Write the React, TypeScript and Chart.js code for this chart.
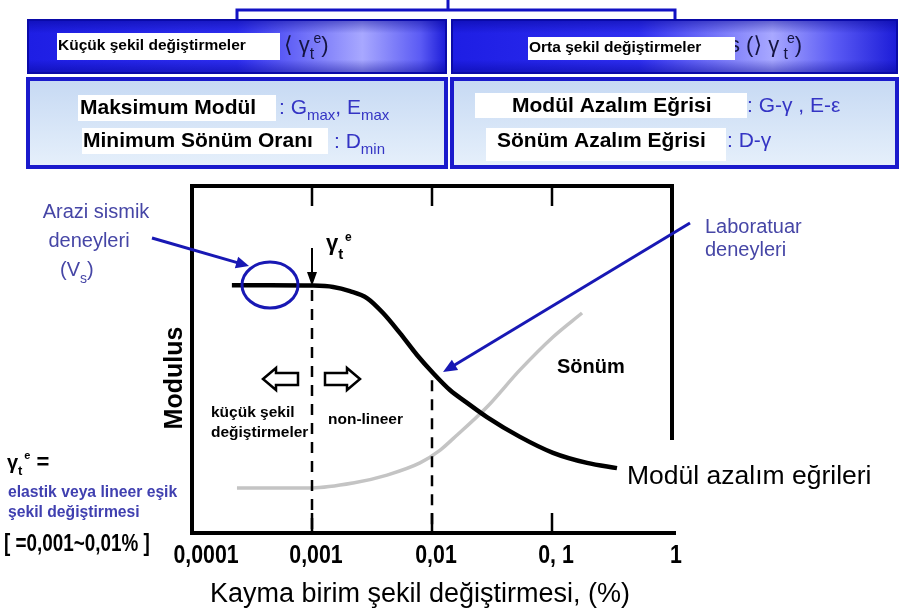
import React, { useEffect, useRef } from "react";
import { Chart, registerables } from "chart.js";

Chart.register(...registerables);

// ---- data ----
const axisTicks = [0.0001, 0.001, 0.01, 0.1, 1];
const axisTickLabels = ["0,0001", "0,001", "0,01", "0, 1", "1"];
const innerTicks = [0.001, 0.01, 0.1];

const modulusStrain = [0.000215, 0.000447, 0.001, 0.0015, 0.00207, 0.00287, 0.00391, 0.00541, 0.0075, 0.0102, 0.0141, 0.0196, 0.0287, 0.0541, 0.102, 0.196, 0.348];
const modulusValue = [0.714, 0.714, 0.713, 0.709, 0.697, 0.677, 0.634, 0.576, 0.513, 0.461, 0.412, 0.375, 0.334, 0.277, 0.231, 0.202, 0.187];

const dampingStrain = [0.000237, 0.001, 0.0022, 0.00422, 0.00794, 0.0117, 0.015, 0.0287, 0.0541, 0.102, 0.178];
const dampingValue = [0.13, 0.13, 0.144, 0.167, 0.202, 0.239, 0.272, 0.363, 0.47, 0.565, 0.634];

const thresholdStrains = [0.001, 0.01];
const thresholdTopValues = [0.7, 0.44];

const SANS = '"Liberation Sans", Arial, "DejaVu Sans", sans-serif';

type Part = { t: string; font: string; dy?: number; color?: string; stay?: boolean };

function seq(ctx: CanvasRenderingContext2D, parts: Part[], x: number, y: number, color: string) {
  let cx = x;
  for (const p of parts) {
    ctx.font = p.font;
    ctx.fillStyle = p.color || color;
    ctx.textAlign = "left";
    ctx.textBaseline = "middle";
    ctx.fillText(p.t, cx, y + (p.dy || 0));
    if (!p.stay) cx += ctx.measureText(p.t).width;
  }
}

function text(ctx: CanvasRenderingContext2D, s: string, x: number, y: number, font: string, color: string, align: CanvasTextAlign = "left") {
  ctx.font = font;
  ctx.fillStyle = color;
  ctx.textAlign = align;
  ctx.textBaseline = "middle";
  ctx.fillText(s, x, y);
}

function narrowText(ctx: CanvasRenderingContext2D, s: string, x: number, y: number, font: string, sx: number, align: CanvasTextAlign) {
  ctx.save();
  ctx.translate(x, y);
  ctx.scale(sx, 1);
  text(ctx, s, 0, 0, font, "#000", align);
  ctx.restore();
}

function arrowLine(ctx: CanvasRenderingContext2D, x1: number, y1: number, x2: number, y2: number, color: string, w: number, hl: number, hw: number) {
  const a = Math.atan2(y2 - y1, x2 - x1);
  ctx.strokeStyle = color;
  ctx.fillStyle = color;
  ctx.lineWidth = w;
  ctx.beginPath();
  ctx.moveTo(x1, y1);
  ctx.lineTo(x2 - Math.cos(a) * hl * 0.8, y2 - Math.sin(a) * hl * 0.8);
  ctx.stroke();
  ctx.beginPath();
  ctx.moveTo(x2, y2);
  ctx.lineTo(x2 - Math.cos(a) * hl - Math.sin(a) * hw, y2 - Math.sin(a) * hl + Math.cos(a) * hw);
  ctx.lineTo(x2 - Math.cos(a) * hl + Math.sin(a) * hw, y2 - Math.sin(a) * hl - Math.cos(a) * hw);
  ctx.closePath();
  ctx.fill();
}

function hollowArrow(ctx: CanvasRenderingContext2D, tip: number, tail: number, cy: number) {
  const dir = tail > tip ? 1 : -1;
  const base = tip + dir * 13;
  ctx.beginPath();
  ctx.moveTo(tip, cy);
  ctx.lineTo(base, cy - 11);
  ctx.lineTo(base, cy - 6);
  ctx.lineTo(tail, cy - 6);
  ctx.lineTo(tail, cy + 6);
  ctx.lineTo(base, cy + 6);
  ctx.lineTo(base, cy + 11);
  ctx.closePath();
  ctx.fillStyle = "#fff";
  ctx.fill();
  ctx.strokeStyle = "#000";
  ctx.lineWidth = 2.5;
  ctx.stroke();
}

function headerBox(ctx: CanvasRenderingContext2D, x: number, y: number, w: number, h: number, light: number) {
  const g = ctx.createLinearGradient(x, 0, x + w, 0);
  g.addColorStop(0, "#1e1ee4");
  g.addColorStop(Math.max(0, light - 0.3), "#2e2ef0");
  g.addColorStop(light, "#a8a8ff");
  g.addColorStop(Math.min(1, light + 0.14), "#5a5af4");
  g.addColorStop(1, "#1c1cd8");
  ctx.fillStyle = g;
  ctx.fillRect(x, y, w, h);
  const v = ctx.createLinearGradient(0, y, 0, y + h);
  v.addColorStop(0, "rgba(0,0,140,0.45)");
  v.addColorStop(0.25, "rgba(0,0,140,0)");
  v.addColorStop(0.75, "rgba(0,0,140,0)");
  v.addColorStop(1, "rgba(0,0,140,0.45)");
  ctx.fillStyle = v;
  ctx.fillRect(x, y, w, h);
  ctx.strokeStyle = "#0a0aa8";
  ctx.lineWidth = 2;
  ctx.strokeRect(x, y, w, h);
}

function infoBox(ctx: CanvasRenderingContext2D, x: number, y: number, w: number, h: number) {
  const g = ctx.createLinearGradient(0, y, 0, y + h);
  g.addColorStop(0, "#c6d9f3");
  g.addColorStop(1, "#e6f0fb");
  ctx.fillStyle = g;
  ctx.fillRect(x, y, w, h);
  ctx.strokeStyle = "#1a1acc";
  ctx.lineWidth = 4;
  ctx.strokeRect(x, y, w, h);
}

function whiteRect(ctx: CanvasRenderingContext2D, rx: number, ry: number, rw: number, rh: number) {
  ctx.fillStyle = "#fff";
  ctx.fillRect(rx, ry, rw, rh);
}

const decorations = {
  id: "decorations",
  beforeDraw(chart: any) {
    const ctx = chart.ctx as CanvasRenderingContext2D;
    ctx.save();
    ctx.fillStyle = "#fff";
    ctx.fillRect(0, 0, chart.width, chart.height);
    ctx.restore();
  },
  afterDraw(chart: any) {
    const ctx = chart.ctx as CanvasRenderingContext2D;
    const xs = chart.scales.x;
    const ys = chart.scales.y;
    const { left, right, top, bottom } = chart.chartArea;
    ctx.save();

    // ---- header ----
    ctx.strokeStyle = "#1212c4";
    ctx.lineWidth = 3;
    ctx.beginPath();
    ctx.moveTo(448, 0); ctx.lineTo(448, 10);
    ctx.moveTo(237, 21); ctx.lineTo(237, 10); ctx.lineTo(675, 10); ctx.lineTo(675, 21);
    ctx.stroke();

    headerBox(ctx, 28, 20, 418, 53, 0.8);
    headerBox(ctx, 452, 20, 445, 53, 0.72);

    const dark = "#141440";
    seq(ctx, [
      { t: "\u27E8 \u03B3", font: `22px ${SANS}` },
      { t: "t", font: `16px ${SANS}`, dy: 9, stay: true },
      { t: " e", font: `14px ${SANS}`, dy: -7 },
      { t: ")", font: `22px ${SANS}` },
    ], 284, 46, dark);
    whiteRect(ctx, 57, 33, 223, 27);
    text(ctx, "K\u00fc\u00e7\u00fck \u015fekil de\u011fi\u015ftirmeler", 58, 46, `bold 15.5px ${SANS}`, "#000");

    seq(ctx, [
      { t: "s (\u27E9 \u03B3", font: `22px ${SANS}` },
      { t: " t", font: `16px ${SANS}`, dy: 9, stay: true },
      { t: "  e", font: `14px ${SANS}`, dy: -7 },
      { t: ")", font: `22px ${SANS}` },
    ], 729, 46, dark);
    whiteRect(ctx, 528, 37, 207, 23);
    text(ctx, "Orta \u015fekil de\u011fi\u015ftirmeler", 529, 48, `bold 15.5px ${SANS}`, "#000");

    infoBox(ctx, 28, 79, 418, 88);
    infoBox(ctx, 452, 79, 445, 88);

    const blue = "#3434c4";
    whiteRect(ctx, 78, 95, 198, 26);
    text(ctx, "Maksimum Mod\u00fcl", 80, 108, `bold 21px ${SANS}`, "#000");
    seq(ctx, [
      { t: ": G", font: `21px ${SANS}` },
      { t: "max", font: `15px ${SANS}`, dy: 8 },
      { t: ", E", font: `21px ${SANS}` },
      { t: "max", font: `15px ${SANS}`, dy: 8 },
    ], 279, 108, blue);
    whiteRect(ctx, 82, 128, 246, 26);
    text(ctx, "Minimum S\u00f6n\u00fcm Oran\u0131", 83, 141, `bold 21px ${SANS}`, "#000");
    seq(ctx, [
      { t: ": D", font: `21px ${SANS}` },
      { t: "min", font: `15px ${SANS}`, dy: 8 },
    ], 334, 142, blue);

    whiteRect(ctx, 475, 93, 272, 25);
    text(ctx, "Mod\u00fcl Azal\u0131m E\u011frisi", 512, 106, `bold 21px ${SANS}`, "#000");
    text(ctx, ": G-\u03B3 , E-\u03B5", 747, 106, `21px ${SANS}`, blue);
    whiteRect(ctx, 486, 128, 240, 33);
    text(ctx, "S\u00f6n\u00fcm Azal\u0131m E\u011frisi", 497, 141, `bold 21px ${SANS}`, "#000");
    text(ctx, ": D-\u03B3", 727, 141, `21px ${SANS}`, blue);

    // ---- frame ----
    ctx.strokeStyle = "#000";
    ctx.lineWidth = 4;
    ctx.beginPath();
    ctx.moveTo(left, bottom + 2);
    ctx.lineTo(left, top);
    ctx.lineTo(right, top);
    ctx.lineTo(right, 440);
    ctx.moveTo(left - 2, bottom);
    ctx.lineTo(right + 4, bottom);
    ctx.stroke();
    ctx.lineWidth = 2.5;
    ctx.beginPath();
    for (const v of innerTicks) {
      const px = xs.getPixelForValue(v);
      ctx.moveTo(px, top);
      ctx.lineTo(px, top + 20);
      ctx.moveTo(px, bottom);
      ctx.lineTo(px, bottom - 20);
    }
    ctx.stroke();

    // tick labels
    axisTicks.forEach((v, i) => {
      const px = xs.getPixelForValue(v);
      narrowText(ctx, axisTickLabels[i], px + (i === 0 ? 14 : 4), 556, `bold 26px ${SANS}`, 0.82, "center");
    });
    text(ctx, "Kayma birim \u015fekil de\u011fi\u015ftirmesi, (%)", 420, 595, `27px ${SANS}`, "#000", "center");

    // Modulus y title
    ctx.save();
    ctx.translate(175, 378);
    ctx.rotate(-Math.PI / 2);
    text(ctx, "Modulus", 0, 0, `bold 25px ${SANS}`, "#000", "center");
    ctx.restore();

    // threshold dashed lines
    ctx.strokeStyle = "#000";
    ctx.lineWidth = 2.5;
    ctx.setLineDash([11, 8]);
    thresholdStrains.forEach((v, i) => {
      const px = xs.getPixelForValue(v);
      ctx.beginPath();
      ctx.moveTo(px, ys.getPixelForValue(thresholdTopValues[i]));
      ctx.lineTo(px, bottom);
      ctx.stroke();
    });
    ctx.setLineDash([]);

    // gamma arrow
    const gx = xs.getPixelForValue(thresholdStrains[0]);
    arrowLine(ctx, gx, 248, gx, 286, "#000", 2, 14, 5);
    seq(ctx, [
      { t: "\u03B3", font: `bold 22px ${SANS}` },
      { t: "t", font: `bold 15px ${SANS}`, dy: 11, stay: true },
      { t: "  e", font: `bold 12px ${SANS}`, dy: -6 },
    ], 326, 244, "#000");

    // hollow arrows and region labels
    hollowArrow(ctx, 263, 298, 379);
    hollowArrow(ctx, 360, 325, 379);
    text(ctx, "k\u00fc\u00e7\u00fck \u015fekil", 211, 413, `bold 15.5px ${SANS}`, "#000");
    text(ctx, "de\u011fi\u015ftirmeler", 211, 433, `bold 15.5px ${SANS}`, "#000");
    text(ctx, "non-lineer", 328, 420, `bold 15.5px ${SANS}`, "#000");
    text(ctx, "S\u00f6n\u00fcm", 557, 367, `bold 20px ${SANS}`, "#000");
    text(ctx, "Mod\u00fcl azal\u0131m e\u011frileri", 627, 477, `26.5px ${SANS}`, "#000");

    // field test annotation
    const navy = "#1818b4";
    const soft = "#4646a6";
    ctx.strokeStyle = navy;
    ctx.lineWidth = 3;
    ctx.beginPath();
    ctx.ellipse(270, 285, 28, 23, 0, 0, Math.PI * 2);
    ctx.stroke();
    arrowLine(ctx, 152, 238, 249, 266, navy, 3, 13, 6);
    text(ctx, "Arazi sismik", 96, 212, `20px ${SANS}`, soft, "center");
    text(ctx, "deneyleri", 89, 241, `20px ${SANS}`, soft, "center");
    seq(ctx, [
      { t: "(V", font: `20px ${SANS}` },
      { t: "s", font: `14px ${SANS}`, dy: 9 },
      { t: ")", font: `20px ${SANS}` },
    ], 60, 270, soft);

    // lab test annotation
    arrowLine(ctx, 690, 223, 443, 372, navy, 3, 14, 6);
    text(ctx, "Laboratuar", 705, 227, `20px ${SANS}`, soft);
    text(ctx, "deneyleri", 705, 250, `20px ${SANS}`, soft);

    // left notes
    seq(ctx, [
      { t: "\u03B3", font: `bold 20px ${SANS}` },
      { t: "t", font: `bold 13px ${SANS}`, dy: 8, stay: true },
      { t: "  e", font: `bold 11px ${SANS}`, dy: -7 },
      { t: " =", font: `bold 22px ${SANS}` },
    ], 7, 463, "#000");
    text(ctx, "elastik veya lineer e\u015fik", 8, 493, `bold 15.7px ${SANS}`, "#4040b0");
    text(ctx, "\u015fekil de\u011fi\u015ftirmesi", 8, 513, `bold 15.7px ${SANS}`, "#4040b0");
    narrowText(ctx, "[ =0,001~0,01% ]", 4, 545, `bold 23px ${SANS}`, 0.82, "left");

    ctx.restore();
  },
};

export default function App() {
  const ref = useRef<HTMLCanvasElement | null>(null);
  useEffect(() => {
    if (!ref.current) return;
    const chart = new Chart(ref.current, {
      type: "line",
      data: {
        datasets: [
          {
            label: "Mod\u00fcl",
            data: modulusStrain.map((x, i) => ({ x, y: modulusValue[i] })),
            borderColor: "#000",
            borderWidth: 4.5,
            pointRadius: 0,
            cubicInterpolationMode: "monotone",
            fill: false,
          },
          {
            label: "S\u00f6n\u00fcm",
            data: dampingStrain.map((x, i) => ({ x, y: dampingValue[i] })),
            borderColor: "#c4c4c4",
            borderWidth: 3.5,
            pointRadius: 0,
            cubicInterpolationMode: "monotone",
            fill: false,
          },
        ],
      },
      options: {
        responsive: false,
        animation: false,
        devicePixelRatio: 1,
        layout: { padding: { left: 192, right: 231, top: 186, bottom: 79 } },
        plugins: { legend: { display: false }, tooltip: { enabled: false } },
        scales: {
          x: { type: "logarithmic", min: 0.0001, max: 1, display: false },
          y: { type: "linear", min: 0, max: 1, display: false },
        },
      },
      plugins: [decorations],
    } as any);
    return () => chart.destroy();
  }, []);
  return (
    <div style={{ position: "absolute", left: 0, top: 0, width: 903, height: 612 }}>
      <canvas ref={ref} width={903} height={612} style={{ width: 903, height: 612, display: "block" }} />
    </div>
  );
}
